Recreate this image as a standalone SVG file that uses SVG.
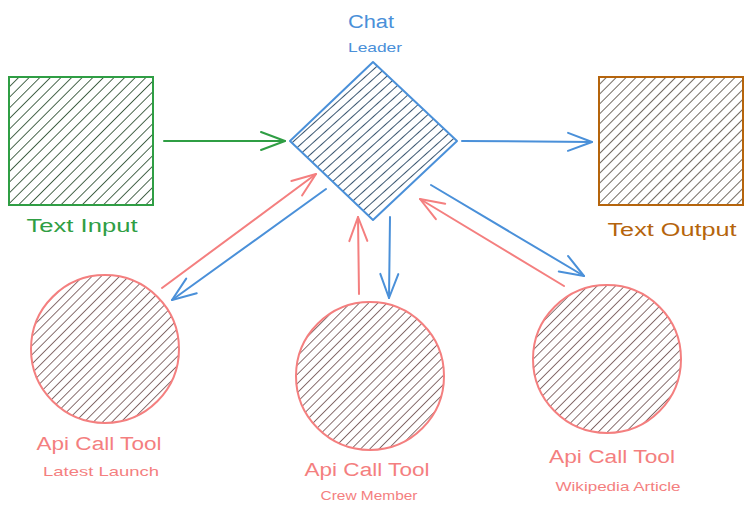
<svg xmlns="http://www.w3.org/2000/svg" width="753" height="515" viewBox="0 0 753 515">
  <style>
    .lbl { font-family: "Liberation Sans", Arial, sans-serif; text-anchor: middle; }
    .big { font-size: 18px; }
    .small { font-size: 13px; }
    .edge { fill: none; stroke-width: 2; stroke-linecap: round; }
    .blue { stroke: #4a90d9; }
    .red { stroke: #f47f7f; }
    .green { stroke: #2f9e44; }
  </style>
  <defs>
    <pattern id="hG" width="7.5" height="7.5" patternUnits="userSpaceOnUse" patternTransform="rotate(45)">
      <line x1="0" y1="0" x2="0" y2="7.5" stroke="#0e3514" stroke-width="1.5"/>
    </pattern>
    <pattern id="hO" width="7" height="7" patternUnits="userSpaceOnUse" patternTransform="rotate(45)">
      <line x1="0" y1="0" x2="0" y2="7" stroke="#24190a" stroke-width="1.3"/>
    </pattern>
    <pattern id="hB" width="7" height="7" patternUnits="userSpaceOnUse" patternTransform="rotate(48)">
      <line x1="0" y1="0" x2="0" y2="7" stroke="#082c4c" stroke-width="1.6"/>
    </pattern>
    <pattern id="hR" width="6.5" height="6.5" patternUnits="userSpaceOnUse" patternTransform="rotate(45)">
      <line x1="0" y1="0" x2="0" y2="6.5" stroke="#3a1010" stroke-width="1.2"/>
    </pattern>
    <marker id="aB" markerUnits="userSpaceOnUse" markerWidth="60" markerHeight="60" refX="0" refY="0" viewBox="-30 -30 60 60" orient="auto" overflow="visible">
      <path d="M-24 -9 L0 0 L-24 9" fill="none" stroke="#4a90d9" stroke-width="2" stroke-linecap="round" stroke-linejoin="round"/>
    </marker>
    <marker id="aR" markerUnits="userSpaceOnUse" markerWidth="60" markerHeight="60" refX="0" refY="0" viewBox="-30 -30 60 60" orient="auto" overflow="visible">
      <path d="M-24 -9 L0 0 L-24 9" fill="none" stroke="#f47f7f" stroke-width="2" stroke-linecap="round" stroke-linejoin="round"/>
    </marker>
    <marker id="aG" markerUnits="userSpaceOnUse" markerWidth="60" markerHeight="60" refX="0" refY="0" viewBox="-30 -30 60 60" orient="auto" overflow="visible">
      <path d="M-24 -9 L0 0 L-24 9" fill="none" stroke="#2f9e44" stroke-width="2" stroke-linecap="round" stroke-linejoin="round"/>
    </marker>
  </defs>
  <rect width="753" height="515" fill="#ffffff"/>

  <g id="connectors">
    <path class="edge green" d="M164 141 L285 141" marker-end="url(#aG)"/>
    <path class="edge blue" d="M462 141 L592 142" marker-end="url(#aB)"/>
    <path class="edge red" d="M162 288 L316 174" marker-end="url(#aR)"/>
    <path class="edge blue" d="M326 189 L172 300" marker-end="url(#aB)"/>
    <path class="edge red" d="M359 294 L358 217" marker-end="url(#aR)"/>
    <path class="edge blue" d="M390 217 L389 298" marker-end="url(#aB)"/>
    <path class="edge red" d="M564 286 L420 199" marker-end="url(#aR)"/>
    <path class="edge blue" d="M431 185 L584 276" marker-end="url(#aB)"/>
  </g>

  <g id="chat-leader">
    <polygon points="373,62 457,141 373,220 290,141" fill="url(#hB)" stroke="#4a90d9" stroke-width="2" stroke-linejoin="round"/>
    <text class="lbl big" x="371" y="28" fill="#4a90d9" textLength="46" lengthAdjust="spacingAndGlyphs">Chat</text>
    <text class="lbl small" x="375" y="52" fill="#4a90d9" textLength="54" lengthAdjust="spacingAndGlyphs">Leader</text>
  </g>

  <g id="text-input">
    <rect x="9" y="77" width="144" height="128" fill="url(#hG)" stroke="#2f9e44" stroke-width="2"/>
    <text class="lbl big" x="82" y="232" fill="#2f9e44" textLength="111" lengthAdjust="spacingAndGlyphs">Text Input</text>
  </g>

  <g id="text-output">
    <rect x="599" y="77" width="144" height="128" fill="url(#hO)" stroke="#b5640c" stroke-width="2"/>
    <text class="lbl big" x="672" y="236" fill="#b5640c" textLength="129" lengthAdjust="spacingAndGlyphs">Text Output</text>
  </g>

  <g id="api-latest-launch">
    <circle cx="105" cy="349" r="74" fill="url(#hR)" stroke="#f47f7f" stroke-width="2"/>
    <text class="lbl big" x="99" y="450" fill="#f47f7f" textLength="125" lengthAdjust="spacingAndGlyphs">Api Call Tool</text>
    <text class="lbl small" x="101" y="476" fill="#f47f7f" textLength="116" lengthAdjust="spacingAndGlyphs">Latest Launch</text>
  </g>

  <g id="api-crew-member">
    <circle cx="370" cy="376" r="74" fill="url(#hR)" stroke="#f47f7f" stroke-width="2"/>
    <text class="lbl big" x="367" y="476" fill="#f47f7f" textLength="125" lengthAdjust="spacingAndGlyphs">Api Call Tool</text>
    <text class="lbl small" x="369" y="500" fill="#f47f7f" textLength="97" lengthAdjust="spacingAndGlyphs">Crew Member</text>
  </g>

  <g id="api-wikipedia-article">
    <circle cx="607" cy="359" r="74" fill="url(#hR)" stroke="#f47f7f" stroke-width="2"/>
    <text class="lbl big" x="612" y="463" fill="#f47f7f" textLength="126" lengthAdjust="spacingAndGlyphs">Api Call Tool</text>
    <text class="lbl small" x="618" y="491" fill="#f47f7f" textLength="125" lengthAdjust="spacingAndGlyphs">Wikipedia Article</text>
  </g>
</svg>
